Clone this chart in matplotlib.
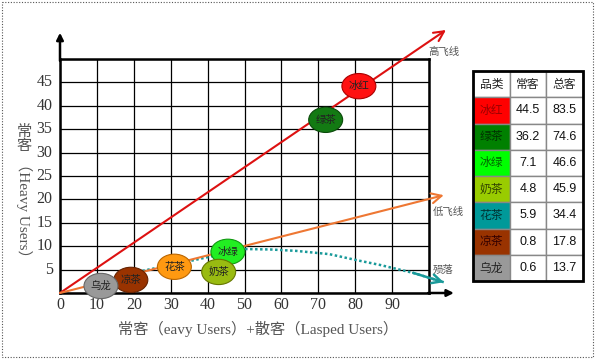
import matplotlib.pyplot as plt
from matplotlib.patches import Ellipse, Rectangle

# Table data
brands = ['冰红', '绿茶', '冰绿', '奶茶', '花茶', '凉茶', '乌龙']
heavy = [44.5, 36.2, 7.1, 4.8, 5.9, 0.8, 0.6]
total = [83.5, 74.6, 46.6, 45.9, 34.4, 17.8, 13.7]
table_colors = ['#FF0000', '#008000', '#00FF00', '#99CC00', '#009999', '#993300', '#999999']
table_text_colors = ['#990000', '#003300', '#006600', '#334400', '#003333', '#330000', '#222222']

# Bubble positions
bubble_x = [81, 72, 45.5, 43, 31, 19.2, 11.1]
bubble_y = [44.2, 37.0, 8.8, 4.5, 5.6, 2.8, 1.5]
bubble_colors = ['#FF1111', '#137A13', '#22EE22', '#99BB11', '#FF9911', '#993300', '#999999']
bubble_edges = ['#AA0000', '#0A4A0A', '#119911', '#667700', '#BB6600', '#662200', '#666666']

x_ticks = [0, 10, 20, 30, 40, 50, 60, 70, 80, 90]
y_ticks = [5, 10, 15, 20, 25, 30, 35, 40, 45]

# Trend lines (end points) and the decline curve
high_end = (104.6, 56.2)
low_end = (104.0, 20.9)
decline_x = [21, 27, 35, 42, 50, 57, 64, 73, 80.5, 86.7, 95.7, 104]
decline_y = [4.5, 5.5, 6.8, 8.0, 9.4, 9.3, 9.0, 8.3, 7.0, 6.0, 4.3, 2.3]

serif = ['Liberation Serif', 'Noto Sans CJK SC']
cjk = ['Noto Sans CJK SC', 'DejaVu Sans']

fig = plt.figure(figsize=(5.96, 3.6), dpi=100)
W, H = 596, 360

# main plot area in pixel coords: x 60..429, y 59..293
ax = fig.add_axes([60 / W, (H - 293) / H, (429 - 60) / W, (293 - 59) / H])
ax.set_xlim(0, 100)
ax.set_ylim(0, 50)
ax.set_xticks(range(0, 101, 10))
ax.set_yticks(range(0, 51, 5))
ax.grid(True, color='black', linewidth=0.9)
ax.set_axisbelow(True)
ax.tick_params(length=0, labelleft=False, labelbottom=False)
for s in ax.spines.values():
    s.set_linewidth(1.8)
    s.set_color('black')

for t in x_ticks:
    ax.text(t, -2.6, str(t), ha='center', va='center', fontsize=11.5,
            family=serif, color='#333333', clip_on=False)
for t in y_ticks:
    ax.text(-2.0, t, str(t), ha='right', va='center', fontsize=11.5,
            family=serif, color='#333333', clip_on=False)

# axis arrows
ax.annotate('', xy=(0, 56.2), xytext=(0, 49), annotation_clip=False,
            arrowprops=dict(arrowstyle='-|>', color='black', lw=1.8, mutation_scale=10))
ax.annotate('', xy=(107.5, 0), xytext=(99, 0), annotation_clip=False,
            arrowprops=dict(arrowstyle='-|>', color='black', lw=1.8, mutation_scale=10))

# high / low lines
ax.annotate('', xy=high_end, xytext=(0, 0), annotation_clip=False,
            arrowprops=dict(arrowstyle='->', color='#DD1111', lw=1.5,
                            mutation_scale=18, shrinkA=0, shrinkB=0))
ax.annotate('', xy=low_end, xytext=(0, 0), annotation_clip=False,
            arrowprops=dict(arrowstyle='->', color='#EE7733', lw=1.5,
                            mutation_scale=18, shrinkA=0, shrinkB=0))

# decline curve
ax.plot(decline_x, decline_y, linestyle=(0, (1, 1)), color='#1A9A9A',
        lw=1.8, clip_on=False)
ax.annotate('', xy=(decline_x[-1], decline_y[-1]), xytext=(decline_x[-2], decline_y[-2]),
            annotation_clip=False,
            arrowprops=dict(arrowstyle='->', color='#1A9A9A', lw=1.8,
                            mutation_scale=16, shrinkA=0, shrinkB=0))

ax.text(99.7, 51.5, '高飞线', fontsize=7.5, family=cjk, color='#555555',
        ha='left', va='center', clip_on=False)
ax.text(101, 17.3, '低飞线', fontsize=7.5, family=cjk, color='#555555',
        ha='left', va='center', clip_on=False)
ax.text(101, 4.9, '殒落', fontsize=7.5, family=cjk, color='#555555',
        ha='left', va='center', clip_on=False)

# bubbles
for name, bx, by, fc, ec in zip(brands, bubble_x, bubble_y, bubble_colors, bubble_edges):
    e = Ellipse((bx, by), 9.2, 5.4, facecolor=fc, edgecolor=ec, lw=0.8,
                zorder=5, clip_on=False)
    ax.add_patch(e)
    ax.text(bx, by, name, ha='center', va='center', fontsize=7.5, family=cjk,
            color='#222222', zorder=6)

# axis labels
fig.text(258 / W, 1 - 329 / H, '常客（eavy Users）+散客（Lasped Users）',
         ha='center', va='center', fontsize=11, family=serif, color='#555555')
fig.text(24 / W, 1 - 139 / H, '常\n客', ha='center', va='center', fontsize=11,
         family=serif, color='#555555', linespacing=1.0)
fig.text(24 / W, 1 - 210 / H, '（Heavy Users）', ha='center', va='center',
         fontsize=11, family=serif, color='#555555', rotation=270)

# table in pixel coords: x 473..583, y 71..281
tax = fig.add_axes([473 / W, (H - 281) / H, (583 - 473) / W, (281 - 71) / H])
tax.set_xlim(0, 3)
tax.set_ylim(8, 0)
tax.axis('off')
headers = ['品类', '常客', '总客']
for j, h in enumerate(headers):
    tax.add_patch(Rectangle((j, 0), 1, 1, facecolor='white', edgecolor='#888888', lw=1))
    tax.text(j + 0.5, 0.5, h, ha='center', va='center', fontsize=8.5,
             family=cjk, color='#222222')
for i, (name, hv, tt) in enumerate(zip(brands, heavy, total)):
    r = i + 1
    tax.add_patch(Rectangle((0, r), 1, 1, facecolor=table_colors[i], edgecolor='#888888', lw=1))
    tax.add_patch(Rectangle((1, r), 1, 1, facecolor='white', edgecolor='#888888', lw=1))
    tax.add_patch(Rectangle((2, r), 1, 1, facecolor='white', edgecolor='#888888', lw=1))
    tax.text(0.5, r + 0.5, name, ha='center', va='center', fontsize=8.5,
             family=cjk, color=table_text_colors[i])
    tax.text(1.5, r + 0.5, f'{hv}', ha='center', va='center', fontsize=9,
             family='Liberation Sans', color='#111111')
    tax.text(2.5, r + 0.5, f'{tt}', ha='center', va='center', fontsize=9,
             family='Liberation Sans', color='#111111')
tax.add_patch(Rectangle((0, 0), 3, 8, facecolor='none', edgecolor='black', lw=2, clip_on=False))

# dotted page border
bax = fig.add_axes([0, 0, 1, 1], facecolor='none')
bax.set_xlim(0, W)
bax.set_ylim(H, 0)
bax.axis('off')
bax.add_patch(Rectangle((2, 2), 591, 355, facecolor='none', edgecolor='#555555',
                        lw=0.8, linestyle=(0, (1, 1.5))))

fig.savefig('out.png', dpi=100, facecolor='white')
